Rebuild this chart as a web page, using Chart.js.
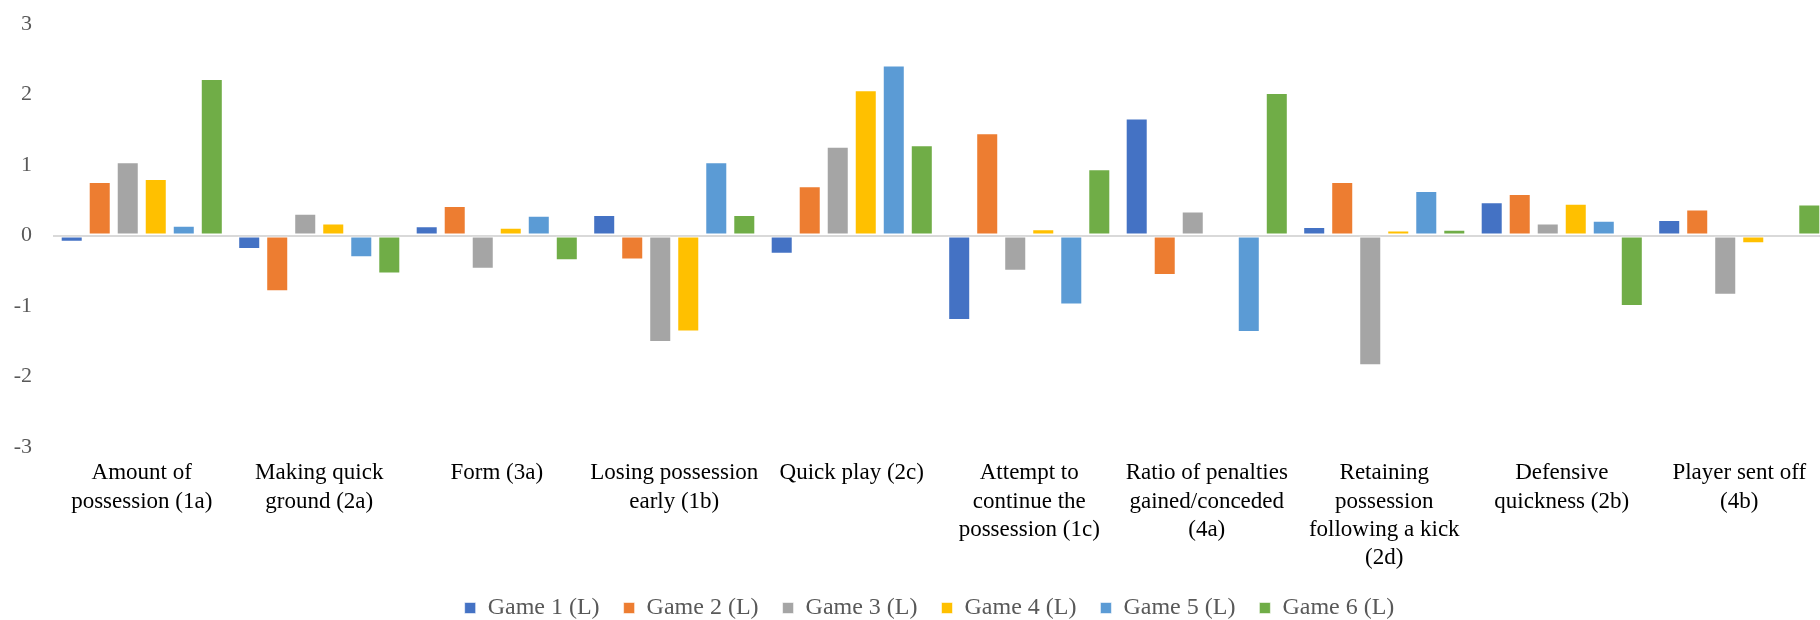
<!DOCTYPE html>
<html>
<head>
<meta charset="utf-8">
<script src="https://cdn.jsdelivr.net/npm/chart.js@4.4.1/dist/chart.umd.min.js"></script>
<style>
  html, body { margin: 0; padding: 0; background: #ffffff; overflow: hidden; }
  #wrap { position: relative; width: 1830px; height: 620px; }
</style>
</head>
<body>
<div id="wrap"><canvas id="chart"></canvas></div>
<script>
// Performance indicators (multi-line category labels)
const categories = [
  ['Amount of', 'possession (1a)'],
  ['Making quick', 'ground (2a)'],
  ['Form (3a)'],
  ['Losing possession', 'early (1b)'],
  ['Quick play (2c)'],
  ['Attempt to', 'continue the', 'possession (1c)'],
  ['Ratio of penalties', 'gained/conceded', '(4a)'],
  ['Retaining', 'possession', 'following a kick', '(2d)'],
  ['Defensive', 'quickness (2b)'],
  ['Player sent off', '(4b)']
];

const seriesNames = ['Game 1 (L)', 'Game 2 (L)', 'Game 3 (L)', 'Game 4 (L)', 'Game 5 (L)', 'Game 6 (L)'];

const game1 = [-0.09, -0.19, 0.13, 0.29, -0.26, -1.20, 1.66, 0.12, 0.47, 0.22];
const game2 = [0.76, -0.79, 0.42, -0.34, 0.70, 1.45, -0.56, 0.76, 0.59, 0.37];
const game3 = [1.04, 0.31, -0.47, -1.51, 1.26, -0.50, 0.34, -1.84, 0.17, -0.84];
const game4 = [0.80, 0.17, 0.11, -1.36, 2.06, 0.09, null, 0.07, 0.45, -0.11];
const game5 = [0.14, -0.31, 0.28, 1.04, 2.41, -0.98, -1.37, 0.63, 0.21, null];
const game6 = [2.22, -0.54, -0.35, 0.29, 1.28, 0.94, 2.02, 0.08, -1.00, 0.44];

const yTicks = [-3, -2, -1, 0, 1, 2, 3];

const seriesColors = ['#4472C4', '#ED7D31', '#A5A5A5', '#FFC000', '#5B9BD5', '#70AD47'];

const seriesValues = [game1, game2, game3, game4, game5, game6];

const datasets = seriesValues.map((vals, i) => ({
  label: seriesNames[i],
  data: vals,
  backgroundColor: seriesColors[i],
  borderColor: 'rgba(255,255,255,0.55)',
  borderWidth: 1,
  borderSkipped: false,
  categoryPercentage: 0.947,
  barPercentage: 0.786
}));

const serif = "'Liberation Serif', 'Times New Roman', serif";

// Nudge the legend row slightly left so it sits centred under the plot
const legendNudge = {
  id: 'legendNudge',
  afterLayout(chart) {
    if (chart.legend) {
      chart.legend.left -= 11;
      chart.legend.right -= 11;
    }
  }
};

new Chart(document.getElementById('chart'), {
  type: 'bar',
  data: { labels: categories, datasets: datasets },
  plugins: [legendNudge],
  options: {
    responsive: true,
    maintainAspectRatio: false,
    animation: false,
    layout: { padding: { top: 24, right: 2, bottom: -10, left: 0 } },
    plugins: {
      tooltip: { enabled: false },
      legend: {
        position: 'bottom',
        fullSize: false,
        labels: {
          font: { family: serif, size: 24 },
          color: '#595959',
          boxWidth: 11,
          boxHeight: 11,
          padding: 24
        }
      }
    },
    scales: {
      x: {
        grid: { display: false, drawTicks: false },
        border: { display: false },
        afterFit: (scale) => { scale.height = 125; },
        ticks: {
          font: { family: serif, size: 23, lineHeight: 1.235 },
          color: '#000000',
          padding: 12,
          maxRotation: 0,
          autoSkip: false
        }
      },
      y: {
        min: -3,
        max: 3,
        afterBuildTicks: (scale) => { scale.ticks = yTicks.map(v => ({ value: v })); },
        afterFit: (scale) => {
          scale.width = 53;
          scale.paddingTop = 0;
          scale.paddingBottom = 0;
        },
        border: { display: false },
        grid: {
          drawTicks: false,
          lineWidth: 2,
          color: (ctx) => (ctx.tick && ctx.tick.value === 0 ? '#D9D9D9' : 'rgba(0,0,0,0)')
        },
        ticks: {
          font: { family: serif, size: 22 },
          color: '#595959',
          padding: 21
        }
      }
    }
  }
});
</script>
</body>
</html>
